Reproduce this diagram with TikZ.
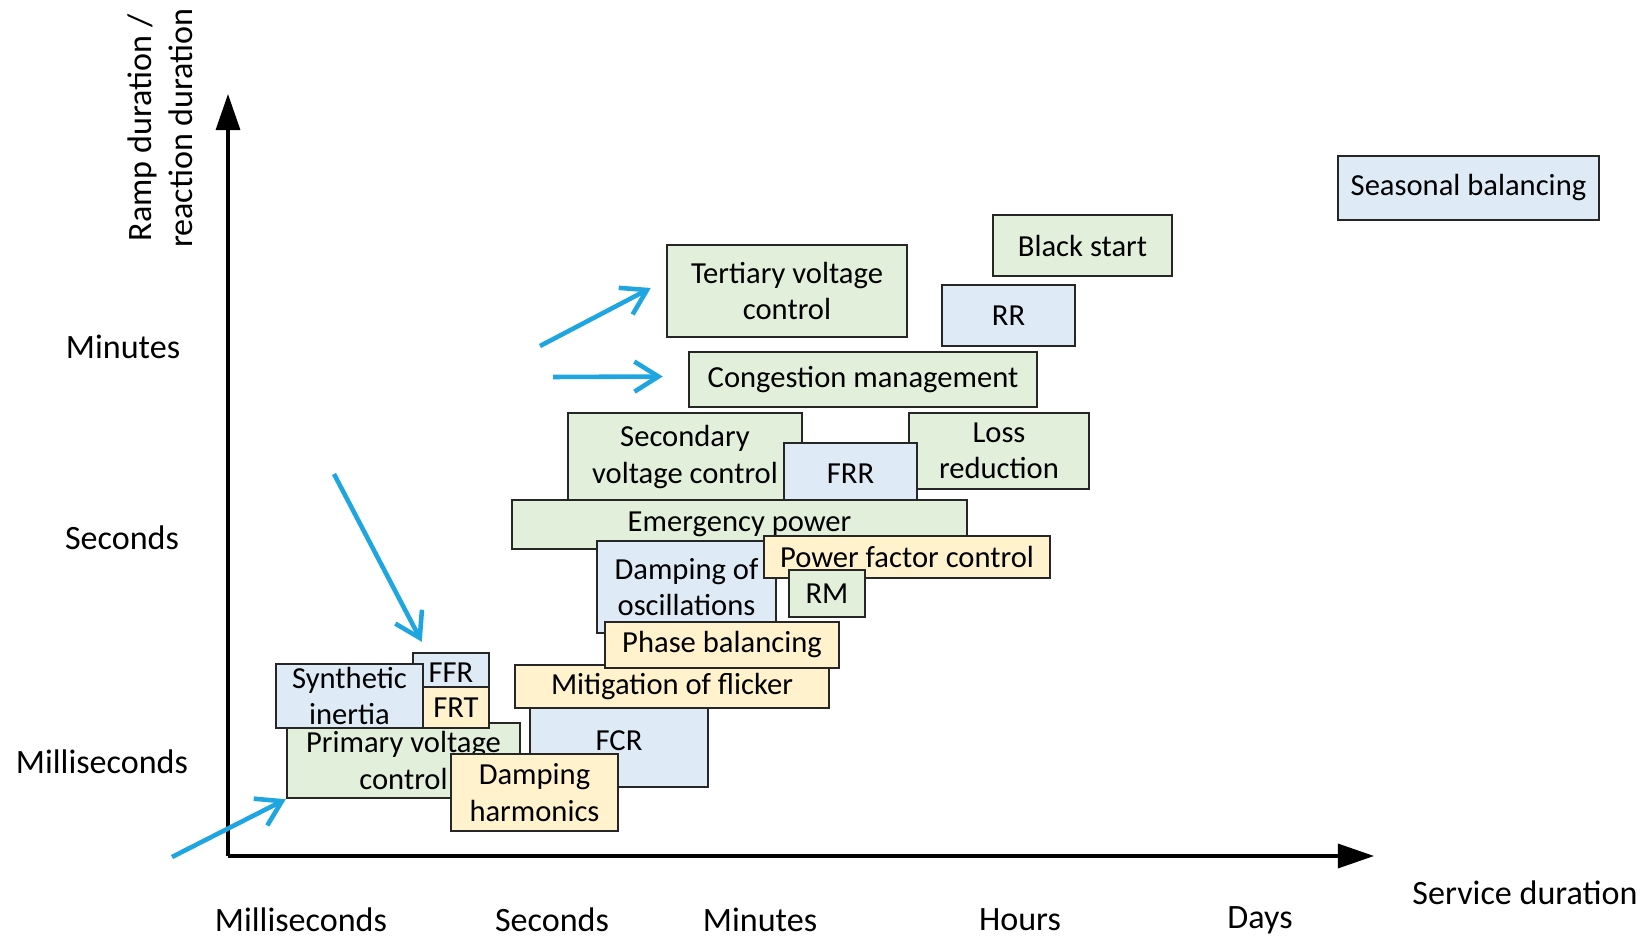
\documentclass[tikz,border=0pt]{standalone}
\usepackage{fontspec}
\setmainfont{Carlito}
\usetikzlibrary{fit,arrows.meta}
\definecolor{svcgreen}{HTML}{E2EFDA}
\definecolor{svcblue}{HTML}{DEEBF7}
\definecolor{svcyellow}{HTML}{FFF2CC}
\definecolor{hintblue}{HTML}{1FA6E0}
\tikzset{
  svc/.style={draw=black!85, line width=0.7pt, inner sep=0pt},
  gsvc/.style={svc, fill=svcgreen},
  bsvc/.style={svc, fill=svcblue},
  ysvc/.style={svc, fill=svcyellow},
  svctext/.style={inner sep=0pt, align=center, font=\fontsize{8.7}{10.4}\selectfont},
  axlabel/.style={font=\fontsize{9.7}{11.7}\selectfont},
  axis/.style={line width=0.9pt, -{Triangle[length=3.6mm,width=2.4mm]}},
  hint/.style={hintblue, line width=1.3pt, -{Straight Barb[length=2.4mm,width=3mm]}},
}

\begin{document}
\begin{tikzpicture}[x=0.01cm, y=-0.01cm]
    \useasboundingbox (0,0) rectangle (1645,937);
    % axes
    \coordinate (o) at (228,856);
    \coordinate (ytop) at (228,94);
    \coordinate (xend) at (1374,856);
    \draw[axis] (o) -- (ytop);
    \draw[axis] (o) -- (xend);
    \node[axlabel, rotate=90, align=center] (ylab) at (160,128) {Ramp duration /\\reaction duration};
    \node[axlabel] (ymin) at (123,347) {Minutes};
    \node[axlabel] (ysec) at (122,538) {Seconds};
    \node[axlabel] (yms) at (102,762) {Milliseconds};
    \node[axlabel] (xms) at (301,920) {Milliseconds};
    \node[axlabel] (xsec) at (552,920) {Seconds};
    \node[axlabel] (xmin) at (760,920) {Minutes};
    \node[axlabel] (xhrs) at (1020,920) {Hours};
    \node[axlabel] (xday) at (1260,920) {Days};
    \node[axlabel] (xlab) at (1525,893) {Service duration};

    % services, back to front
    \node[gsvc, fit={(667,245) (907,337)}, label={[svctext]center:Tertiary voltage\\control}] (tert) {};
    \node[gsvc, fit={(993,215) (1172,276)}, label={[svctext]center:Black start}] (black) {};
    \node[bsvc, fit={(942,285) (1075,346)}, label={[svctext]center:RR}] (rr) {};
    \node[bsvc, fit={(1338,156) (1599,220)}, label={[svctext]center:Seasonal balancing}] (season) {};
    \node[gsvc, fit={(689,352) (1037,407)}, label={[svctext]center:Congestion management}] (cong) {};
    \node[gsvc, fit={(568,413) (802,501)}, label={[svctext]center:Secondary\\voltage control}] (sec) {};
    \node[gsvc, fit={(909,413) (1089,489)}, label={[svctext]center:Loss\\reduction}] (loss) {};
    \node[bsvc, fit={(784,443) (917,505)}, label={[svctext]center:FRR}] (frr) {};
    \node[gsvc, fit={(512,500) (967,549)}, label={[svctext]center:Emergency power}] (emerg) {};
    \node[bsvc, fit={(597,541) (776,633)}, label={[svctext]center:Damping of\\oscillations}] (osc) {};
    \node[ysvc, fit={(764,536) (1050,578)}, label={[svctext]center:Power factor control}] (pf) {};
    \node[gsvc, fit={(789,570) (865,617)}, label={[svctext]center:RM}] (rm) {};
    \node[bsvc, fit={(530,708) (708,787)}, label={[svctext, yshift=0.7mm]center:FCR}] (fcr) {};
    \node[ysvc, fit={(515,665) (829,708)}, label={[svctext]center:Mitigation of flicker}] (flick) {};
    \node[ysvc, fit={(605,622) (839,668)}, label={[svctext]center:Phase balancing}] (phase) {};
    \node[gsvc, fit={(287,723) (520,798)}, label={[svctext]center:Primary voltage\\control}] (prim) {};
    \node[bsvc, fit={(413,653) (489,687)}, label={[svctext, yshift=-0.3mm]center:FFR}] (ffr) {};
    \node[ysvc, fit={(423,687) (489,728)}, label={[svctext]center:FRT}] (frt) {};
    \node[bsvc, fit={(276,664) (423,728)}, label={[svctext]center:Synthetic\\inertia}] (inert) {};
    \node[ysvc, fit={(451,754) (618,831)}, label={[svctext]center:Damping\\harmonics}] (harm) {};

    % blue hints
    \coordinate (h1) at (172,857);
    \coordinate (h2) at (334,474);
    \coordinate (h3) at (540,346);
    \coordinate (h4) at (553,377);
    \draw[hint] (h1) -- (prim.south west);
    \draw[hint] (h2) -- ([xshift=1mm,yshift=1mm]ffr.north west);
    \draw[hint] (h3) -- ([xshift=-1.5mm,yshift=0.3mm]tert.west);
    \draw[hint] (h4) -- ([xshift=-2.5mm,yshift=0.3mm]cong.west);
\end{tikzpicture}
\end{document}
